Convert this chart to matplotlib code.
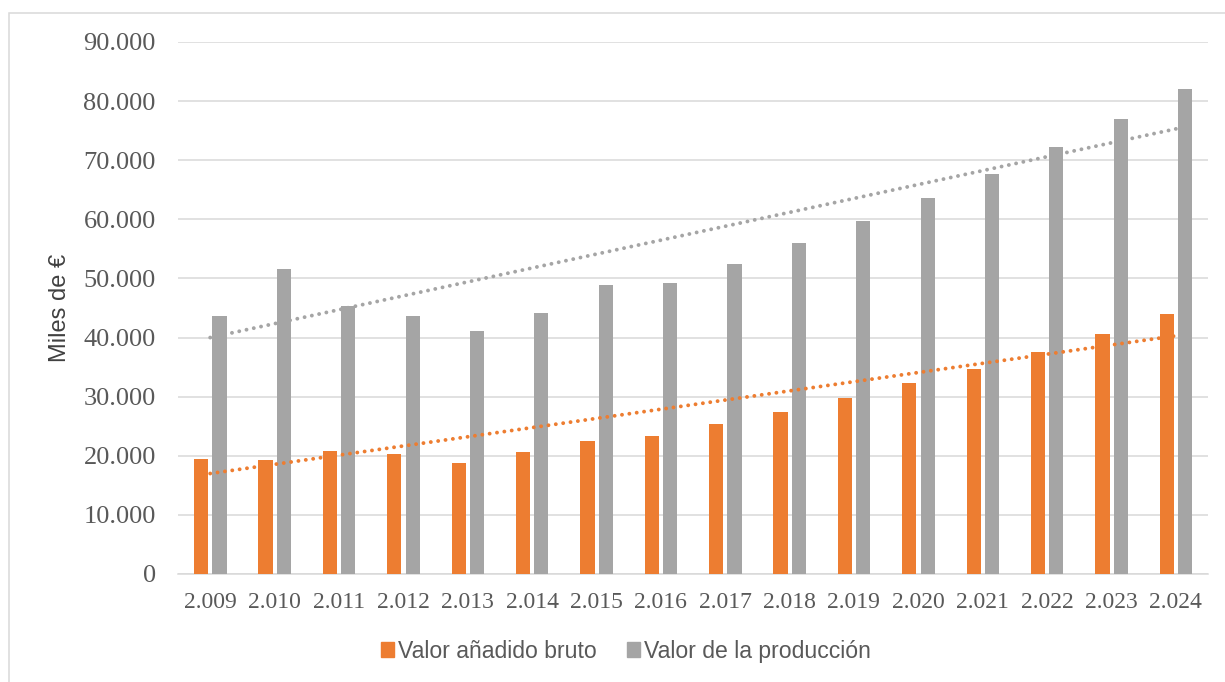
import matplotlib
matplotlib.use('Agg')
import matplotlib.pyplot as plt
from matplotlib.patches import Patch, Rectangle
from matplotlib.ticker import FuncFormatter, MultipleLocator
import numpy as np

# data (miles de euros)
years = ["2.009", "2.010", "2.011", "2.012", "2.013", "2.014", "2.015", "2.016",
         "2.017", "2.018", "2.019", "2.020", "2.021", "2.022", "2.023", "2.024"]
vab = [19400, 19300, 20800, 20300, 18800, 20700, 22500, 23400,
       25400, 27400, 29800, 32300, 34700, 37600, 40600, 44000]
produccion = [43650, 51600, 45350, 43650, 41100, 44200, 48900, 49200,
              52450, 56000, 59700, 63600, 67700, 72250, 77000, 82060]
# linear trend lines, first and last year
vab_trend = [17000, 40300]
produccion_trend = [40000, 75300]

ORANGE = "#ED7D31"
GREY = "#A5A5A5"
TEXT = "#595959"
GRID = "#D9D9D9"

fig = plt.figure(figsize=(12.25, 6.82), dpi=100)
ax = fig.add_axes([178 / 1225, 108 / 682, 1030 / 1225, 532 / 682])

x = np.arange(len(years))
w = 0.22
ax.bar(x - 0.14, vab, w, color=ORANGE, zorder=3)
ax.bar(x + 0.145, produccion, w, color=GREY, zorder=3)

dots = dict(lw=2.8, linestyle=(0, (0.01, 1.9)), dash_capstyle='round', zorder=4)
ax.plot([x[0], x[-1]], vab_trend, color=ORANGE, **dots)
ax.plot([x[0], x[-1]], produccion_trend, color=GREY, **dots)

ax.set_xlim(-0.5, len(years) - 0.5)
ax.set_ylim(0, 90000)
ax.yaxis.set_major_locator(MultipleLocator(10000))
ax.yaxis.set_major_formatter(FuncFormatter(lambda v, p: f"{int(v):,}".replace(",", ".")))
ax.set_xticks(x)
ax.set_xticklabels(years)

ax.grid(axis='y', color=GRID, lw=1.1, zorder=0)
ax.set_axisbelow(True)
for s in ['top', 'right', 'left']:
    ax.spines[s].set_visible(False)
ax.spines['bottom'].set_color(GRID)
ax.spines['bottom'].set_linewidth(1.1)
ax.tick_params(length=0, colors=TEXT)
ax.tick_params(axis='y', pad=16, labelsize=19)
ax.tick_params(axis='x', pad=13, labelsize=17)
for lab in ax.get_xticklabels() + ax.get_yticklabels():
    lab.set_fontfamily(['Liberation Serif', 'DejaVu Serif'])

ax.set_ylabel("Miles de €", fontsize=17, color="#404040",
              family=['Liberation Sans', 'DejaVu Sans'], labelpad=9)

handles = [Patch(color=ORANGE, label="Valor añadido bruto"),
           Patch(color=GREY, label="Valor de la producción")]
leg = fig.legend(handles=handles, loc='center', bbox_to_anchor=(0.511, 0.045), ncol=2,
                 frameon=False, handlelength=0.55, handleheight=0.6, handletextpad=0.2,
                 columnspacing=1.3, prop={'family': ['Liberation Sans', 'DejaVu Sans'],
                                          'size': 16.6})
for t in leg.get_texts():
    t.set_color(TEXT)

# light frame around the chart area
fig.add_artist(Rectangle((8.5 / 1225, -0.1), 1.2, 1.1 - 12.5 / 682, transform=fig.transFigure,
                         fill=False, edgecolor=GRID, lw=1.1))

fig.savefig("out.png", dpi=100)
